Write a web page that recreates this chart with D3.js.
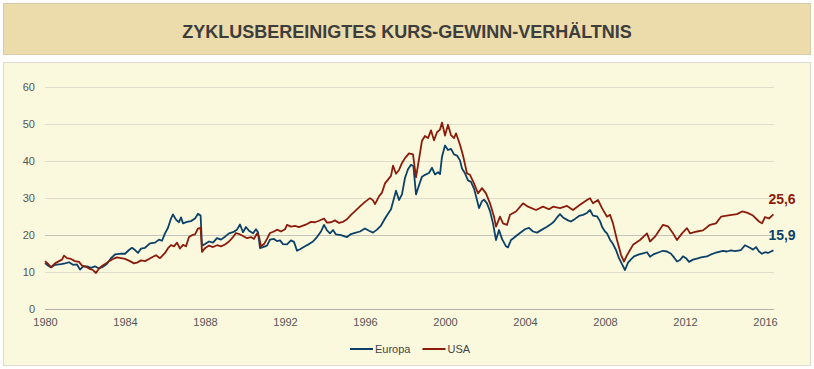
<!DOCTYPE html>
<html>
<head>
<meta charset="utf-8">
<script src="https://cdn.jsdelivr.net/npm/d3@7"></script>
<style>
  body { margin: 0; background: #fff; font-family: "Liberation Sans", Arial, sans-serif; }
</style>
</head>
<body>
<div id="chart"></div>
<script>
// values, [year, value]
const europa = [
  [1980.0,12.5],[1980.15,11.8],[1980.3,11.3],[1980.5,12.0],[1980.8,12.2],[1981.0,12.4],[1981.2,12.7],
  [1981.4,12.0],[1981.6,12.1],[1981.75,10.7],[1981.9,11.5],[1982.1,11.6],[1982.3,11.2],[1982.5,11.6],
  [1982.7,11.0],[1982.9,11.5],[1983.1,12.3],[1983.3,13.8],[1983.5,14.8],[1983.8,15.0],[1984.0,15.0],
  [1984.2,16.0],[1984.35,16.6],[1984.5,16.0],[1984.65,15.2],[1984.8,16.4],[1985.0,16.6],[1985.25,17.8],
  [1985.5,18.0],[1985.7,18.8],[1985.85,18.5],[1986.0,20.5],[1986.15,22.0],[1986.3,24.5],[1986.4,25.6],
  [1986.55,24.2],[1986.7,23.5],[1986.8,24.8],[1986.9,23.2],[1987.1,23.6],[1987.3,23.8],[1987.5,24.5],
  [1987.65,25.8],[1987.78,25.3],[1987.85,17.2],[1988.0,17.6],[1988.2,18.3],[1988.4,18.0],[1988.6,19.2],
  [1988.8,18.8],[1989.0,19.6],[1989.2,20.5],[1989.4,20.8],[1989.6,21.5],[1989.75,22.9],[1989.9,20.8],
  [1990.05,22.2],[1990.2,21.2],[1990.4,20.5],[1990.55,21.6],[1990.65,20.8],[1990.75,16.5],[1990.9,16.8],
  [1991.1,17.2],[1991.25,18.8],[1991.45,19.0],[1991.6,18.4],[1991.75,18.6],[1991.9,17.6],[1992.1,17.5],
  [1992.3,18.6],[1992.45,18.2],[1992.6,15.8],[1992.75,16.2],[1993.0,17.0],[1993.2,17.6],[1993.4,18.3],
  [1993.6,19.5],[1993.8,21.0],[1993.95,22.8],[1994.1,21.3],[1994.25,20.5],[1994.4,21.4],[1994.55,20.2],
  [1994.8,20.0],[1995.1,19.5],[1995.3,20.3],[1995.5,20.6],[1995.75,21.0],[1996.0,21.8],[1996.2,21.2],
  [1996.4,20.7],[1996.6,21.5],[1996.8,22.6],[1997.0,24.5],[1997.15,25.8],[1997.3,27.0],[1997.45,30.0],
  [1997.55,32.0],[1997.7,29.5],[1997.85,31.0],[1998.0,35.5],[1998.15,37.8],[1998.3,39.0],[1998.42,38.6],
  [1998.55,31.0],[1998.7,33.5],[1998.85,35.8],[1999.0,36.3],[1999.2,36.8],[1999.35,38.2],[1999.5,36.4],
  [1999.65,37.0],[1999.75,36.5],[1999.85,41.2],[2000.0,44.2],[2000.15,43.0],[2000.3,43.3],[2000.45,41.8],
  [2000.6,41.5],[2000.75,40.2],[2000.85,38.0],[2001.0,36.7],[2001.15,34.8],[2001.3,34.4],[2001.45,32.6],
  [2001.6,29.5],[2001.7,27.3],[2001.85,29.2],[2001.95,29.6],[2002.1,28.6],[2002.25,26.5],[2002.4,23.2],
  [2002.55,18.7],[2002.7,21.4],[2002.85,19.0],[2003.05,17.0],[2003.15,16.7],[2003.3,18.7],[2003.45,19.3],
  [2003.6,20.0],[2003.8,20.8],[2004.0,21.6],[2004.2,22.0],[2004.4,21.0],[2004.6,20.7],[2004.85,21.5],
  [2005.1,22.3],[2005.3,23.0],[2005.45,23.7],[2005.6,24.8],[2005.75,25.7],[2005.9,24.8],[2006.15,24.0],
  [2006.3,23.7],[2006.5,24.4],[2006.7,25.2],[2006.9,25.5],[2007.1,26.0],[2007.25,26.8],[2007.4,25.3],
  [2007.6,25.1],[2007.75,23.8],[2007.85,22.3],[2008.0,21.0],[2008.1,20.5],[2008.25,18.8],[2008.4,17.6],
  [2008.55,16.0],[2008.7,13.8],[2008.85,12.2],[2009.0,10.6],[2009.15,12.6],[2009.3,13.5],[2009.45,14.3],
  [2009.7,14.8],[2009.9,15.1],[2010.1,15.4],[2010.25,14.2],[2010.45,14.9],[2010.7,15.4],[2010.9,15.8],
  [2011.1,15.6],[2011.3,15.0],[2011.45,14.0],[2011.6,12.9],[2011.75,13.3],[2011.9,14.3],[2012.05,13.8],
  [2012.2,12.8],[2012.4,13.4],[2012.6,13.7],[2012.8,14.0],[2013.1,14.3],[2013.3,14.8],[2013.5,15.2],
  [2013.7,15.5],[2013.9,15.8],[2014.1,15.6],[2014.3,15.9],[2014.5,15.7],[2014.8,16.0],[2015.0,17.3],
  [2015.1,17.0],[2015.25,16.6],[2015.4,16.1],[2015.55,16.8],[2015.7,15.6],[2015.85,15.0],[2016.0,15.4],
  [2016.15,15.2],[2016.3,15.6],[2016.42,15.9]
];

const usa = [
  [1980.0,13.0],[1980.15,12.3],[1980.3,11.4],[1980.5,12.4],[1980.7,13.0],[1980.85,13.4],[1980.95,14.5],
  [1981.1,13.8],[1981.3,13.6],[1981.5,13.0],[1981.7,12.8],[1981.85,11.8],[1982.0,11.6],[1982.2,11.0],
  [1982.4,10.6],[1982.55,9.8],[1982.7,11.0],[1982.85,11.7],[1983.0,12.2],[1983.2,13.0],[1983.4,13.6],
  [1983.6,14.0],[1983.8,13.8],[1984.0,13.6],[1984.25,13.0],[1984.45,12.4],[1984.6,12.6],[1984.8,13.2],
  [1985.0,13.0],[1985.2,13.6],[1985.4,14.2],[1985.55,14.6],[1985.75,13.8],[1986.0,15.2],[1986.15,16.5],
  [1986.3,17.3],[1986.45,17.0],[1986.6,18.0],[1986.75,16.4],[1986.9,17.4],[1987.05,17.0],[1987.2,19.5],
  [1987.35,20.0],[1987.5,20.2],[1987.65,21.8],[1987.78,22.0],[1987.85,15.5],[1988.0,16.5],[1988.2,17.2],
  [1988.4,16.8],[1988.6,17.3],[1988.8,17.0],[1989.0,17.5],[1989.2,18.3],[1989.4,19.5],[1989.55,20.6],
  [1989.75,20.2],[1989.9,19.8],[1990.1,19.2],[1990.3,19.5],[1990.45,19.0],[1990.6,20.5],[1990.7,19.6],
  [1990.8,17.0],[1990.95,17.6],[1991.1,19.0],[1991.25,20.6],[1991.45,21.0],[1991.6,21.5],[1991.8,21.0],
  [1992.0,21.6],[1992.1,22.8],[1992.3,22.3],[1992.5,22.5],[1992.7,22.2],[1992.9,22.6],[1993.1,23.0],
  [1993.3,23.6],[1993.5,23.5],[1993.7,23.9],[1993.95,24.5],[1994.1,23.4],[1994.3,23.5],[1994.5,24.0],
  [1994.7,23.3],[1994.9,23.6],[1995.1,24.3],[1995.3,25.5],[1995.5,26.5],[1995.75,27.8],[1996.0,29.0],
  [1996.25,30.0],[1996.4,29.4],[1996.5,28.4],[1996.7,30.5],[1996.85,31.5],[1997.0,34.0],[1997.15,35.0],
  [1997.3,36.0],[1997.4,38.8],[1997.55,36.6],[1997.7,37.6],[1997.85,39.5],[1998.0,40.8],[1998.2,42.1],
  [1998.4,41.8],[1998.55,35.6],[1998.7,40.5],[1998.85,45.5],[1999.0,46.8],[1999.15,46.2],[1999.3,48.3],
  [1999.45,45.6],[1999.6,47.8],[1999.75,48.5],[1999.85,50.4],[2000.0,46.9],[2000.15,49.8],[2000.3,47.0],
  [2000.45,46.2],[2000.55,47.5],[2000.75,44.4],[2000.9,41.5],[2001.1,36.7],[2001.25,36.3],[2001.45,34.0],
  [2001.65,31.3],[2001.85,32.7],[2002.05,31.3],[2002.25,28.6],[2002.45,25.0],[2002.55,22.3],[2002.75,25.0],
  [2002.9,23.2],[2003.1,22.8],[2003.25,25.5],[2003.55,26.4],[2003.9,28.6],[2004.15,27.7],[2004.55,26.8],
  [2004.9,27.7],[2005.2,27.0],[2005.4,27.7],[2005.75,27.3],[2006.1,27.9],[2006.4,26.8],[2006.75,28.2],
  [2007.1,29.5],[2007.25,30.0],[2007.4,28.6],[2007.65,29.5],[2007.85,27.3],[2008.1,25.0],[2008.25,25.5],
  [2008.4,23.2],[2008.6,18.7],[2008.8,14.7],[2008.95,12.9],[2009.1,14.6],[2009.4,17.4],[2009.75,18.7],
  [2010.1,20.5],[2010.25,18.3],[2010.5,19.6],[2010.9,22.8],[2011.15,22.4],[2011.4,20.5],[2011.6,18.7],
  [2011.85,20.5],[2012.1,21.9],[2012.25,20.5],[2012.6,21.0],[2012.9,21.3],[2013.25,22.8],[2013.55,23.2],
  [2013.8,25.0],[2014.25,25.4],[2014.6,25.7],[2014.85,26.4],[2015.1,26.1],[2015.4,25.3],[2015.7,23.7],
  [2015.85,23.2],[2016.0,24.9],[2016.2,24.5],[2016.42,25.6]
];

const yearTicks = [1980, 1984, 1988, 1992, 1996, 2000, 2004, 2008, 2012, 2016];
const valueTicks = [0, 10, 20, 30, 40, 50, 60];
const seriesNames = ["Europa", "USA"];
const seriesColors = ["#0b4168", "#8b1c0c"];
const endLabels = ["15,9", "25,6"];
const titleText = "ZYKLUSBEREINIGTES KURS-GEWINN-VERHÄLTNIS";

const W = 814, H = 369;
const svg = d3.select("#chart").append("svg")
  .attr("width", W).attr("height", H);

// title box
svg.append("rect")
  .attr("x", 3.5).attr("y", 3.5).attr("width", 807).attr("height", 51)
  .attr("fill", "#ecdcab").attr("stroke", "#d6cba6");
svg.append("text")
  .attr("x", 407).attr("y", 37.5)
  .attr("text-anchor", "middle")
  .attr("font-size", 18).attr("font-weight", "bold")
  .attr("fill", "#3d3d3d")
  .text(titleText);

// chart panel
svg.append("rect")
  .attr("x", 3.5).attr("y", 62.5).attr("width", 807).attr("height", 303)
  .attr("fill", "#fbf9dd").attr("stroke", "#dcdcd0");

const x = d3.scaleLinear().domain([1980, 2016.45]).range([45, 774]);
const y = d3.scaleLinear().domain([0, 60]).range([309.3, 87]);

// gridlines
const g = svg.append("g");
g.selectAll("line.grid")
  .data(valueTicks)
  .enter().append("line")
  .attr("class", "grid")
  .attr("x1", x(1980)).attr("x2", x(2016.45))
  .attr("y1", d => Math.round(y(d)) + 0.5).attr("y2", d => Math.round(y(d)) + 0.5)
  .attr("stroke", d => d === 0 ? "#b0b0a8" : (d === 20 ? "#c4c4bc" : "#e0ddcc"))
  .attr("stroke-width", 1);

// y axis labels
const yAxis = d3.axisLeft(y).tickValues(valueTicks).tickSize(0).tickPadding(10);
svg.append("g")
  .attr("transform", "translate(" + x(1980) + ",0)")
  .call(yAxis)
  .call(s => s.select(".domain").remove())
  .call(s => s.selectAll("text")
    .attr("font-family", "Liberation Sans, Arial, sans-serif")
    .attr("font-size", 11).attr("fill", "#555"));

// x axis labels
const xAxis = d3.axisBottom(x).tickValues(yearTicks).tickFormat(d3.format("d")).tickSize(0).tickPadding(9);
svg.append("g")
  .attr("transform", "translate(0," + y(0) + ")")
  .call(xAxis)
  .call(s => s.select(".domain").remove())
  .call(s => s.selectAll("text")
    .attr("font-family", "Liberation Sans, Arial, sans-serif")
    .attr("font-size", 11).attr("fill", "#555"));

// lines
const line = d3.line().x(d => x(d[0])).y(d => y(d[1]));
[europa, usa].forEach((data, i) => {
  svg.append("path")
    .datum(data)
    .attr("fill", "none")
    .attr("stroke", seriesColors[i])
    .attr("stroke-width", 1.8)
    .attr("stroke-linejoin", "round")
    .attr("d", line);
});

// end labels
[europa, usa].forEach((data, i) => {
  const last = data[data.length - 1];
  svg.append("text")
    .attr("x", x(last[0]) - 5)
    .attr("y", y(last[1]) - 10)
    .attr("font-size", 14).attr("font-weight", "bold")
    .attr("fill", seriesColors[i])
    .text(endLabels[i]);
});

// legend
const legend = svg.append("g").attr("transform", "translate(350,349)");
let lx = 0;
seriesNames.forEach((name, i) => {
  const item = legend.append("g").attr("transform", "translate(" + lx + ",0)");
  item.append("line")
    .attr("x1", 0).attr("x2", 23).attr("y1", 0).attr("y2", 0)
    .attr("stroke", seriesColors[i]).attr("stroke-width", 2);
  const t = item.append("text")
    .attr("x", 25).attr("y", 4)
    .attr("font-size", 11).attr("fill", "#444")
    .text(name);
  lx += 25 + t.node().getComputedTextLength() + 12;
});
</script>
</body>
</html>
